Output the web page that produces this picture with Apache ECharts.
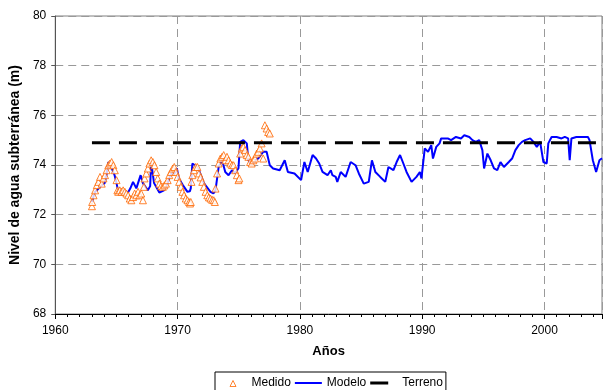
<!DOCTYPE html>
<html>
<head>
<meta charset="utf-8">
<title>Nivel de agua subterránea</title>
<script src="https://cdn.jsdelivr.net/npm/echarts@6/dist/echarts.min.js"></script>
<style>
    html, body { margin: 0; padding: 0; background: #fff; }
    #chart { width: 605px; height: 390px; }
</style>
</head>
<body>
<div id="chart"></div>
<script>
// [año, nivel (m)]
var medido = [
    [1963.00, 72.34], [1963.02, 72.51], [1963.13, 72.78], [1963.26, 72.98], [1963.40, 73.19], [1963.53, 73.32],
    [1963.66, 73.52], [1963.80, 73.25], [1963.94, 73.46], [1964.07, 73.59], [1964.20, 73.79], [1964.34, 73.99],
    [1964.47, 74.06], [1964.61, 74.12], [1964.75, 73.99], [1964.87, 73.79], [1965.01, 73.39], [1965.08, 72.98],
    [1965.15, 72.92], [1965.28, 72.98], [1965.42, 72.92], [1965.55, 72.98], [1965.69, 72.92], [1965.82, 72.85],
    [1965.96, 72.78], [1966.09, 72.65], [1966.22, 72.58], [1966.36, 72.71], [1966.49, 72.85], [1966.63, 72.78],
    [1966.77, 72.92], [1966.90, 72.78], [1967.03, 72.85], [1967.17, 72.58], [1967.25, 73.12], [1967.30, 73.46],
    [1967.44, 73.66], [1967.57, 73.86], [1967.70, 74.06], [1967.84, 74.19], [1967.98, 74.12], [1968.11, 73.99],
    [1968.25, 73.72], [1968.38, 73.46], [1968.51, 73.25], [1968.65, 73.15], [1968.79, 73.12], [1968.92, 73.18],
    [1969.05, 73.25], [1969.19, 73.39], [1969.32, 73.59], [1969.46, 73.72], [1969.60, 73.86], [1969.73, 73.92],
    [1969.86, 73.72], [1970.00, 73.52], [1970.13, 73.32], [1970.27, 73.12], [1970.40, 72.92], [1970.53, 72.78],
    [1970.67, 72.65], [1970.81, 72.58], [1970.94, 72.51], [1971.02, 72.45], [1971.08, 72.51], [1971.14, 73.32],
    [1971.21, 73.59], [1971.34, 73.79], [1971.48, 73.92], [1971.62, 73.92], [1971.75, 73.66], [1971.88, 73.50],
    [1972.02, 73.32], [1972.15, 73.12], [1972.29, 72.92], [1972.43, 72.78], [1972.56, 72.70], [1972.69, 72.65],
    [1972.83, 72.60], [1972.96, 72.58], [1973.05, 72.51], [1973.10, 73.05], [1973.23, 73.66], [1973.36, 74.06],
    [1973.50, 74.26], [1973.64, 74.33], [1973.77, 74.40], [1973.90, 74.19], [1974.04, 74.33], [1974.17, 74.19],
    [1974.31, 74.06], [1974.45, 74.00], [1974.58, 73.99], [1974.71, 73.79], [1974.85, 73.59], [1974.98, 73.39],
    [1975.05, 73.46], [1975.12, 74.46], [1975.25, 74.67], [1975.38, 74.73], [1975.52, 74.60], [1975.66, 74.40],
    [1975.79, 74.33], [1975.93, 74.12], [1976.06, 74.06], [1976.19, 74.19], [1976.33, 74.26], [1976.47, 74.46],
    [1976.60, 74.53], [1976.73, 74.67], [1976.87, 74.87], [1977.00, 74.26], [1977.14, 75.60], [1977.28, 75.47],
    [1977.41, 75.33], [1977.54, 75.27]
];

var modelo = [
    [1963.00, 72.51], [1963.23, 72.90], [1963.40, 72.98], [1963.80, 73.19], [1964.04, 73.27], [1964.20, 73.63],
    [1964.34, 74.12], [1964.61, 73.87], [1964.85, 73.59], [1965.01, 73.27], [1965.15, 72.92], [1965.50, 72.90],
    [1965.96, 72.90], [1966.14, 73.06], [1966.36, 73.32], [1966.63, 73.06], [1966.98, 73.59], [1967.17, 73.27],
    [1967.57, 72.98], [1967.76, 73.15], [1967.84, 74.11], [1968.08, 73.27], [1968.51, 72.89], [1968.89, 72.98],
    [1969.19, 73.27], [1969.46, 73.67], [1969.73, 73.63], [1969.94, 73.87], [1970.10, 73.47], [1970.43, 73.19],
    [1970.81, 72.92], [1971.00, 72.94], [1971.08, 73.06], [1971.21, 74.06], [1971.42, 73.99], [1971.75, 73.79],
    [1972.15, 73.27], [1972.69, 72.92], [1972.93, 72.86], [1973.10, 72.98], [1973.36, 73.92], [1973.64, 74.19],
    [1973.90, 73.72], [1974.17, 73.59], [1974.45, 73.79], [1974.71, 73.67], [1974.98, 73.87], [1975.12, 74.93],
    [1975.38, 75.00], [1975.66, 74.87], [1975.79, 74.19], [1976.06, 73.99], [1976.33, 74.19], [1976.60, 74.27],
    [1977.00, 74.53], [1977.28, 74.53], [1977.54, 73.99], [1977.81, 73.86], [1978.35, 73.79], [1978.76, 74.19],
    [1979.02, 73.72], [1979.56, 73.66], [1980.10, 73.39], [1980.37, 74.12], [1980.64, 73.72], [1981.04, 74.40],
    [1981.32, 74.26], [1981.58, 74.06], [1981.85, 73.72], [1982.26, 73.59], [1982.53, 73.79], [1982.66, 73.59],
    [1982.93, 73.52], [1983.06, 73.32], [1983.34, 73.72], [1983.74, 73.52], [1984.15, 74.12], [1984.55, 73.99],
    [1984.82, 73.66], [1985.22, 73.25], [1985.63, 73.32], [1985.89, 74.19], [1986.17, 73.72], [1986.57, 73.52],
    [1986.98, 73.32], [1987.11, 73.25], [1987.24, 73.92], [1987.65, 73.79], [1987.91, 74.12], [1988.19, 74.40],
    [1988.46, 74.06], [1988.72, 73.72], [1989.13, 73.32], [1989.53, 73.52], [1989.81, 73.72], [1989.94, 73.46],
    [1990.21, 74.67], [1990.48, 74.53], [1990.74, 74.80], [1990.88, 74.26], [1991.15, 74.73], [1991.42, 74.87],
    [1991.55, 75.07], [1992.09, 75.07], [1992.36, 75.00], [1992.76, 75.13], [1993.17, 75.07], [1993.44, 75.20],
    [1993.85, 75.13], [1994.11, 75.00], [1994.38, 74.93], [1994.66, 75.00], [1994.92, 74.60], [1995.06, 73.86],
    [1995.33, 74.46], [1995.60, 74.19], [1995.87, 73.86], [1996.14, 73.79], [1996.40, 74.12], [1996.68, 73.92],
    [1997.08, 74.12], [1997.35, 74.26], [1997.62, 74.60], [1997.89, 74.80], [1998.16, 74.93], [1998.42, 75.00],
    [1998.83, 75.07], [1999.10, 74.93], [1999.37, 74.73], [1999.64, 74.93], [1999.91, 74.12], [2000.18, 74.06],
    [2000.31, 74.87], [2000.58, 75.13], [2000.99, 75.13], [2001.39, 75.07], [2001.66, 75.13], [2001.93, 75.07],
    [2002.06, 74.19], [2002.20, 75.07], [2002.60, 75.13], [2003.14, 75.13], [2003.55, 75.13], [2003.68, 75.00],
    [2003.95, 74.19], [2004.22, 73.72], [2004.49, 74.19], [2004.70, 74.27]
];

var terreno = [[1963.0, 74.9], [2004.7, 74.9]];

var xMin = 1960, xMax = 2004.7;
var yMin = 68, yMax = 80;

var font = 'Liberation Sans, Arial, sans-serif';
var gridLine = { show: true, lineStyle: { color: '#999', type: [8, 5], width: 1 } };

// iconos de la leyenda (27 x 7)
var iconMedido = 'path://M10.5,7L13.5,1L16.5,7ZM0,0M27,7';
var iconModelo = 'path://M0,2.5H27V4.5H0ZM0,0M27,7';
var iconTerreno = 'path://M0,2H18V5H0ZM0,0M27,7';

var chart = echarts.init(document.getElementById('chart'));

var option = {
    animation: false,
    backgroundColor: '#fff',
    textStyle: { fontFamily: font },
    grid: {
        left: 53, right: -1, top: 16, bottom: 76,
        show: true, borderColor: '#808080', borderWidth: 1
    },
    legend: {
        left: 215, top: 372,
        itemWidth: 27, itemHeight: 7, itemGap: 4,
        padding: [5, 3, 5, 4],
        borderColor: '#000', borderWidth: 1, borderRadius: 0,
        backgroundColor: '#fff',
        symbolKeepAspect: false,
        textStyle: { fontSize: 12, color: '#000', fontFamily: font },
        data: [
            { name: 'Medido', icon: iconMedido, itemStyle: { color: '#fff', borderColor: '#FF6600', borderWidth: 1 } },
            { name: 'Modelo', icon: iconModelo, itemStyle: { color: '#0000FF', borderWidth: 0 } },
            { name: 'Terreno', icon: iconTerreno, itemStyle: { color: '#000', borderWidth: 0 } }
        ]
    },
    xAxis: [
        {
            type: 'value', min: xMin, max: xMax, interval: 10,
            name: 'Años', nameLocation: 'middle', nameGap: 31,
            nameTextStyle: { fontWeight: 'bold', fontSize: 13, color: '#000', fontFamily: font },
            axisLine: { lineStyle: { color: '#000', width: 1 } },
            axisTick: { show: true, length: 5, lineStyle: { color: '#000' } },
            axisLabel: {
                fontSize: 12, color: '#000', margin: 11, fontFamily: font,
                formatter: function (v) { return v % 10 === 0 ? v : ''; }
            },
            splitLine: gridLine
        },
        {
            // marcas menores, una por año
            type: 'value', min: xMin, max: xMax, interval: 1, position: 'bottom',
            axisLine: { show: false },
            axisTick: { show: true, length: 3, lineStyle: { color: '#000' } },
            axisLabel: { show: false },
            splitLine: { show: false }
        }
    ],
    yAxis: {
        type: 'value', min: yMin, max: yMax, interval: 2,
        name: 'Nivel de agua subterránea (m)', nameLocation: 'middle', nameGap: 30,
        nameTextStyle: { fontWeight: 'bold', fontSize: 14, color: '#000', fontFamily: font },
        axisLine: { show: true, lineStyle: { color: '#555', width: 1 } },
        axisTick: { show: true, length: 4, lineStyle: { color: '#555' } },
        axisLabel: { fontSize: 12, color: '#000', margin: 9, fontFamily: font },
        splitLine: gridLine
    },
    series: [
        {
            name: 'Medido',
            type: 'scatter',
            data: medido,
            symbol: 'triangle',
            symbolSize: 7,
            itemStyle: { color: '#fff', borderColor: '#FF6600', borderWidth: 1 },
            z: 4
        },
        {
            name: 'Modelo',
            type: 'line',
            data: modelo,
            symbol: 'none',
            lineStyle: { color: '#0000FF', width: 2 },
            itemStyle: { color: '#0000FF' },
            z: 3
        },
        {
            name: 'Terreno',
            type: 'line',
            data: terreno,
            symbol: 'none',
            lineStyle: { color: '#000', width: 3, type: [18, 9] },
            itemStyle: { color: '#000' },
            z: 5
        }
    ]
};

chart.setOption(option);
</script>
</body>
</html>
